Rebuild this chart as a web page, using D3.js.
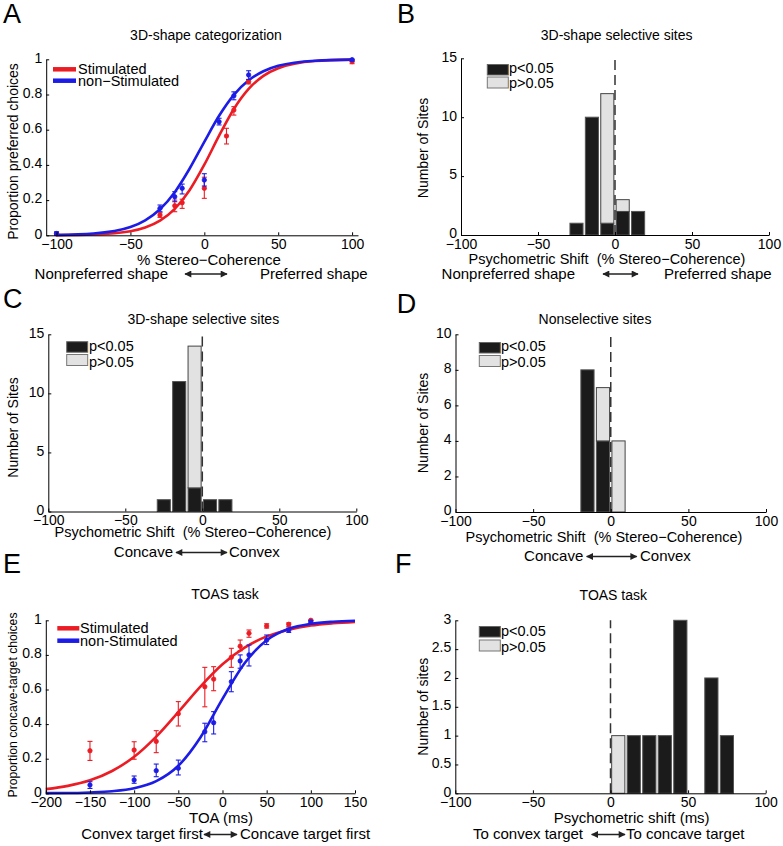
<!DOCTYPE html>
<html>
<head>
<meta charset="utf-8">
<script src="https://cdn.jsdelivr.net/npm/d3@7"></script>
<style>
  body { margin: 0; background: #fff; }
  svg { display: block; }
  text { font-family: "Liberation Sans", Arial, Helvetica, sans-serif; fill: #000; white-space: pre; }
  .ax path, .ax line { stroke: #000; stroke-width: 1; }
  .ax text { font-size: 14px; font-family: "Liberation Sans", Arial, Helvetica, sans-serif; }
</style>
</head>
<body>
<svg id="fig" width="783" height="846"></svg>
<script>
// ---------------- DATA ----------------
// Panel A: 3D-shape categorization
const aXTicks = [-100, -50, 0, 50, 100];
const aYTicks = [0, 0.2, 0.4, 0.6, 0.8, 1];
const aStimX  = [-100, -30, -20, -15, 0, 15, 20, 30, 100];
const aStimY  = [0.008, 0.115, 0.168, 0.185, 0.267, 0.564, 0.712, 0.873, 0.987];
const aStimLo = [0.0, 0.102, 0.134, 0.153, 0.21, 0.519, 0.683, 0.86, 0.975];
const aStimHi = [0.015, 0.128, 0.20, 0.205, 0.33, 0.608, 0.731, 0.886, 0.995];
const aNonX   = [-100, -30, -20, -15, 0, 10, 20, 30, 100];
const aNonY   = [0.01, 0.153, 0.219, 0.267, 0.314, 0.645, 0.793, 0.911, 0.998];
const aNonLo  = [0.0, 0.134, 0.191, 0.235, 0.28, 0.627, 0.77, 0.885, 0.99];
const aNonHi  = [0.02, 0.172, 0.248, 0.291, 0.35, 0.665, 0.815, 0.935, 1.0];
const aCurveX    = [-100, -75, -50, -40, -30, -20, -10, 0, 10, 20, 30, 40, 50, 75, 100];
const aStimCurve = [0.001, 0.005, 0.023, 0.044, 0.083, 0.150, 0.256, 0.401, 0.566, 0.718, 0.832, 0.906, 0.949, 0.990, 0.998];
const aNonCurve  = [0.002, 0.010, 0.047, 0.085, 0.148, 0.245, 0.378, 0.531, 0.679, 0.798, 0.881, 0.932, 0.963, 0.992, 0.998];

// Histograms (bin centres, counts p<0.05 and p>0.05)
const histXTicks = [-100, -50, 0, 50, 100];
const bBins = [-25, -15, -5, 5, 15];
const bSig  = [1, 10, 1, 2, 2];
const bNon  = [0, 0, 11, 1, 0];
const bYTicks = [0, 5, 10, 15];

const cBins = [-25, -15, -5, 5, 15];
const cSig  = [1, 11, 2, 1, 1];
const cNon  = [0, 0, 12, 0, 0];
const cYTicks = [0, 5, 10, 15];

const dBins = [-15, -5, 5];
const dSig  = [8, 4, 0];
const dNon  = [0, 3, 4];
const dYTicks = [0, 2, 4, 6, 8, 10];

const fBins = [5, 15, 25, 35, 45, 65, 75];
const fSig  = [0, 1, 1, 1, 3, 2, 1];
const fNon  = [1, 0, 0, 0, 0, 0, 0];
const fYTicks = [0, 0.5, 1, 1.5, 2, 2.5, 3];

// Panel E: TOAS task
const eXTicks = [-200, -150, -100, -50, 0, 50, 100, 150];
const eYTicks = [0, 0.2, 0.4, 0.6, 0.8, 1];
const eX      = [-150, -100, -75, -50, -20, -10, 10, 20, 30, 50, 75, 100];
const eStimY  = [0.246, 0.25, 0.30, 0.46, 0.616, 0.66, 0.786, 0.85, 0.925, 0.967, 0.977, 1.0];
const eStimLo = [0.19, 0.197, 0.235, 0.389, 0.50, 0.593, 0.728, 0.824, 0.902, 0.955, 0.965, 0.99];
const eStimHi = [0.30, 0.298, 0.362, 0.53, 0.728, 0.732, 0.838, 0.886, 0.944, 0.98, 0.985, 1.0];
const eNonY   = [0.048, 0.077, 0.131, 0.145, 0.356, 0.408, 0.645, 0.765, 0.80, 0.886, 0.944, 0.99];
const eNonLo  = [0.028, 0.058, 0.096, 0.106, 0.298, 0.343, 0.587, 0.723, 0.736, 0.86, 0.93, 0.98];
const eNonHi  = [0.067, 0.10, 0.169, 0.192, 0.405, 0.472, 0.703, 0.80, 0.857, 0.915, 0.955, 1.0];
const eCurveX    = [-200, -175, -150, -125, -100, -75, -50, -25, 0, 25, 50, 75, 100, 125, 150];
const eStimCurve = [0.024, 0.043, 0.075, 0.129, 0.211, 0.328, 0.470, 0.617, 0.746, 0.842, 0.907, 0.946, 0.970, 0.983, 0.991];
const eNonCurve  = [0.001, 0.0015, 0.005, 0.012, 0.029, 0.070, 0.159, 0.323, 0.546, 0.752, 0.885, 0.951, 0.980, 0.992, 0.997];

// ---------------- DRAWING ----------------
const RED = "#ec1c24", BLUE = "#1c1ce6";
const BLACKBAR = "#1b1b1b", GREYBAR = "#e2e2e2";
const svg = d3.select("#fig");
svg.append("rect").attr("width", 783).attr("height", 846).attr("fill", "#fff");

const fmt = d => d < 0 ? "\u2212" + Math.abs(d) : String(d);

const defs = svg.append("defs");
defs.append("marker").attr("id", "ah").attr("viewBox", "0 0 10 10").attr("refX", 9).attr("refY", 5)
  .attr("markerWidth", 9).attr("markerHeight", 7).attr("markerUnits", "userSpaceOnUse").attr("orient", "auto-start-reverse")
  .append("path").attr("d", "M0,0L10,5L0,10Z").attr("fill", "#222");

function axes(g, x, y, xt, yt) {
  g.append("g").attr("class", "ax").attr("transform", `translate(0,${y.range()[0]})`)
    .call(d3.axisBottom(x).tickValues(xt).tickFormat(fmt).tickSizeInner(-3).tickSizeOuter(0).tickPadding(4));
  const ya = g.append("g").attr("class", "ax").attr("transform", `translate(${x.range()[0]},0)`)
    .call(d3.axisLeft(y).tickValues(yt).tickFormat(fmt).tickSizeInner(-3).tickSizeOuter(0).tickPadding(4));
  ya.selectAll(".tick text").attr("dy", "0.2em");
}
function txt(x, y, s, opt = {}) {
  const t = svg.append("text").attr("x", x).attr("y", y).text(s)
    .attr("font-size", opt.size || 14).attr("text-anchor", opt.anchor || "start");
  if (opt.rot) t.attr("transform", `rotate(-90,${x},${y})`).attr("dominant-baseline", "central").attr("text-anchor", "middle");
  return t;
}
function arrow(x1, x2, y) {
  svg.append("line").attr("x1", x1).attr("x2", x2).attr("y1", y).attr("y2", y)
    .attr("stroke", "#222").attr("stroke-width", 1.3)
    .attr("marker-start", "url(#ah)").attr("marker-end", "url(#ah)");
}
function psychPanel(x, y, curveX, curves, pts) {
  const g = svg.append("g");
  const line = d3.line().x((d, i) => x(curveX[i])).y(d => y(d)).curve(d3.curveMonotoneX);
  curves.forEach(c => {
    g.append("path").attr("d", line(c.v)).attr("fill", "none").attr("stroke", c.col).attr("stroke-width", 2.6);
  });
  pts.forEach(p => {
    p.x.forEach((xv, i) => {
      const cx = x(xv);
      g.append("line").attr("x1", cx).attr("x2", cx).attr("y1", y(p.lo[i])).attr("y2", y(p.hi[i]))
        .attr("stroke", p.col).attr("stroke-width", 1.1);
      [p.lo[i], p.hi[i]].forEach(v => g.append("line").attr("x1", cx - 2.5).attr("x2", cx + 2.5)
        .attr("y1", y(v)).attr("y2", y(v)).attr("stroke", p.col).attr("stroke-width", 1.1));
      g.append("circle").attr("cx", cx).attr("cy", y(p.y[i])).attr("r", 2.2)
        .attr("fill", p.col).attr("stroke", p.col).attr("stroke-width", 0.8);
    });
  });
  return g;
}
function histPanel(x, y, bins, sig, non) {
  const g = svg.append("g");
  const hw = 4.25;
  bins.forEach((b, i) => {
    if (sig[i] > 0)
      g.append("rect").attr("x", x(b - hw)).attr("width", x(b + hw) - x(b - hw))
        .attr("y", y(sig[i])).attr("height", y(0) - y(sig[i]))
        .attr("fill", BLACKBAR).attr("stroke", "#555").attr("stroke-width", 1);
    if (non[i] > 0)
      g.append("rect").attr("x", x(b - hw)).attr("width", x(b + hw) - x(b - hw))
        .attr("y", y(sig[i] + non[i])).attr("height", y(sig[i]) - y(sig[i] + non[i]))
        .attr("fill", GREYBAR).attr("stroke", "#444").attr("stroke-width", 1);
  });
  g.append("line").attr("x1", x(0)).attr("x2", x(0)).attr("y1", y(0)).attr("y2", y(y.domain()[1]))
    .attr("stroke", "#333").attr("stroke-width", 1.5).attr("stroke-dasharray", "10,5");
  return g;
}
function histLegend(x0, yb, yg, tx, tb1, tb2) {
  svg.append("rect").attr("x", x0).attr("y", yb).attr("width", 21).attr("height", 10.5)
    .attr("fill", BLACKBAR).attr("stroke", "#666").attr("stroke-width", 1);
  svg.append("rect").attr("x", x0).attr("y", yg).attr("width", 21).attr("height", 11)
    .attr("fill", GREYBAR).attr("stroke", "#777").attr("stroke-width", 1);
  txt(tx, tb1, "p<0.05", { size: 14.5 });
  txt(tx, tb2, "p>0.05", { size: 14.5 });
}
function lineLegend(x1, x2, yr, yb, tx, tb1, tb2, n2) {
  svg.append("line").attr("x1", x1).attr("x2", x2).attr("y1", yr).attr("y2", yr).attr("stroke", RED).attr("stroke-width", 4.5);
  svg.append("line").attr("x1", x1).attr("x2", x2).attr("y1", yb).attr("y2", yb).attr("stroke", BLUE).attr("stroke-width", 4.5);
  txt(tx, tb1, "Stimulated", { size: 14.5 });
  txt(tx, tb2, n2, { size: 14.5 });
}

// ---- Panel A ----
{
  const x = d3.scaleLinear().domain([-107, 104]).range([46.2, 358]);
  const y = d3.scaleLinear().domain([0, 1]).range([235.3, 59.3]);
  psychPanel(x, y, aCurveX,
    [{ v: aStimCurve, col: RED }, { v: aNonCurve, col: BLUE }],
    [{ x: aStimX, y: aStimY, lo: aStimLo, hi: aStimHi, col: RED },
     { x: aNonX, y: aNonY, lo: aNonLo, hi: aNonHi, col: BLUE }]);
  axes(svg.append("g"), x, y, aXTicks, aYTicks);
  lineLegend(53, 76, 69.3, 80.7, 78, 74, 86, "non\u2212Stimulated");
  txt(3, 22.5, "A", { size: 27 });
  txt(206, 40, "3D-shape categorization", { anchor: "middle" });
  txt(13, 151.5, "Proportion preferred choices", { rot: true });
  txt(209, 264.5, "% Stereo\u2212Coherence", { anchor: "middle", size: 15 });
  txt(168, 278.5, "Nonpreferred shape", { anchor: "end", size: 15 });
  arrow(185, 227, 274);
  txt(260, 278.5, "Preferred shape", { size: 15 });
}
// ---- Panel B ----
{
  const x = d3.scaleLinear().domain([-100, 100]).range([461, 769]);
  const y = d3.scaleLinear().domain([0, 15]).range([235, 58.3]);
  histPanel(x, y, bBins, bSig, bNon);
  axes(svg.append("g"), x, y, histXTicks, bYTicks);
  histLegend(487.3, 64.5, 77, 509, 73.3, 88.3);
  txt(397, 22.5, "B", { size: 27 });
  txt(616.7, 40, "3D-shape selective sites", { anchor: "middle" });
  txt(423.3, 148, "Number of Sites", { rot: true });
  txt(607, 263.5, "Psychometric Shift  (% Stereo\u2212Coherence)", { anchor: "middle", size: 14.5 });
  txt(575, 278.5, "Nonpreferred shape", { anchor: "end", size: 15 });
  arrow(603, 638, 274);
  txt(664, 278.5, "Preferred shape", { size: 15 });
}
// ---- Panel C ----
{
  const x = d3.scaleLinear().domain([-100, 100]).range([48.3, 356.3]);
  const y = d3.scaleLinear().domain([0, 15]).range([511.5, 334.3]);
  histPanel(x, y, cBins, cSig, cNon);
  axes(svg.append("g"), x, y, histXTicks, cYTicks);
  histLegend(66.7, 341.7, 354.5, 89, 351, 367);
  txt(3, 308, "C", { size: 27 });
  txt(203.3, 323.5, "3D-shape selective sites", { anchor: "middle" });
  txt(13.3, 427.5, "Number of Sites", { rot: true });
  txt(193, 536.5, "Psychometric Shift  (% Stereo\u2212Coherence)", { anchor: "middle", size: 14.5 });
  txt(173, 557, "Concave", { anchor: "end", size: 15 });
  arrow(176, 227, 552.5);
  txt(229, 557, "Convex", { size: 15 });
}
// ---- Panel D ----
{
  const x = d3.scaleLinear().domain([-100, 100]).range([455.5, 766]);
  const y = d3.scaleLinear().domain([0, 10]).range([512, 334.3]);
  histPanel(x, y, dBins, dSig, dNon);
  axes(svg.append("g"), x, y, histXTicks, dYTicks);
  histLegend(479.3, 342.5, 355.5, 501, 351, 367);
  txt(396.7, 313, "D", { size: 27 });
  txt(595, 323.5, "Nonselective sites", { anchor: "middle" });
  txt(423.3, 423, "Number of Sites", { rot: true });
  txt(604, 542, "Psychometric Shift  (% Stereo\u2212Coherence)", { anchor: "middle", size: 14.5 });
  txt(583.3, 561, "Concave", { anchor: "end", size: 15 });
  arrow(586.7, 636.7, 556.5);
  txt(640, 561, "Convex", { size: 15 });
}
// ---- Panel E ----
{
  const x = d3.scaleLinear().domain([-200, 150]).range([45.8, 355]);
  const y = d3.scaleLinear().domain([0, 1]).range([793.3, 620.3]);
  psychPanel(x, y, eCurveX,
    [{ v: eStimCurve, col: RED }, { v: eNonCurve, col: BLUE }],
    [{ x: eX, y: eStimY, lo: eStimLo, hi: eStimHi, col: RED },
     { x: eX, y: eNonY, lo: eNonLo, hi: eNonHi, col: BLUE }]);
  axes(svg.append("g"), x, y, eXTicks, eYTicks);
  lineLegend(57.3, 79.3, 628.3, 640.7, 80, 632.7, 646, "non-Stimulated");
  txt(3, 573, "E", { size: 27 });
  txt(225, 599.3, "TOAS task", { anchor: "middle" });
  txt(12.7, 705, "Proportion concave-target choices", { rot: true, size: 12.2 });
  txt(221, 822.7, "TOA (ms)", { anchor: "middle", size: 15 });
  txt(203, 839, "Convex target first", { anchor: "end", size: 15 });
  arrow(204, 237, 834.5);
  txt(240, 839, "Concave target first", { size: 15 });
}
// ---- Panel F ----
{
  const x = d3.scaleLinear().domain([-100, 100]).range([455.3, 765.7]);
  const y = d3.scaleLinear().domain([0, 3]).range([793.3, 620.3]);
  histPanel(x, y, fBins, fSig, fNon);
  axes(svg.append("g"), x, y, histXTicks, fYTicks);
  histLegend(479.3, 626.5, 640, 501, 636, 651.7);
  txt(395, 573, "F", { size: 27 });
  txt(613.3, 600, "TOAS task", { anchor: "middle" });
  txt(423.3, 706.7, "Number of sites", { rot: true });
  txt(631.7, 823.3, "Psychometric shift (ms)", { anchor: "middle", size: 15 });
  txt(583, 839, "To convex target", { anchor: "end", size: 15 });
  arrow(591.7, 625, 834.5);
  txt(626, 839, "To concave target", { size: 15 });
}
</script>
</body>
</html>
